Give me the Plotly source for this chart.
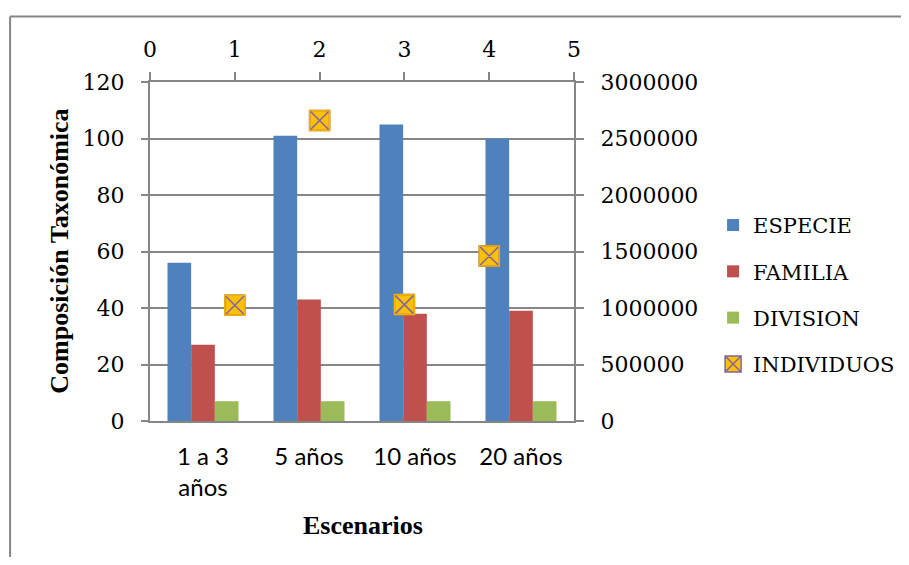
import plotly.graph_objects as go

categories = ["1 a 3<br>años", "5 años", "10 años", "20 años"]
especie = [56, 101, 105, 100]
familia = [27, 43, 38, 39]
division = [7, 7, 7, 7]
ind_x = [1, 2, 3, 4]
individuos = [1025000, 2660000, 1030000, 1460000]

y_ticks = [0, 20, 40, 60, 80, 100, 120]
y2_ticks = [0, 500000, 1000000, 1500000, 2000000, 2500000, 3000000]
x2_ticks = [0, 1, 2, 3, 4, 5]

GRAY = "#868686"
SERIF = "DejaVu Serif"
TSERIF = "Liberation Serif"
SANS = "Lato"

fig = go.Figure()
fig.add_trace(go.Bar(x=categories, y=especie, name="ESPECIE", marker_color="#4F81BD",
                     legendgroup="a", marker_line_width=0))
fig.add_trace(go.Bar(x=categories, y=familia, name="FAMILIA", marker_color="#C0504D",
                     legendgroup="b", marker_line_width=0))
fig.add_trace(go.Bar(x=categories, y=division, name="DIVISION", marker_color="#9BBB59",
                     legendgroup="c", marker_line_width=0))
fig.add_trace(go.Scatter(x=ind_x, y=individuos, name="INDIVIDUOS", mode="markers",
                         xaxis="x2", yaxis="y2", legendgroup="d",
                         marker=dict(symbol="square-x", size=20, color="#FFC000",
                                     line=dict(color="#7F64A8", width=1.5))))
fig.add_trace(go.Scatter(x=ind_x, y=individuos, mode="markers", showlegend=False,
                         xaxis="x2", yaxis="y2", hoverinfo="skip",
                         marker=dict(symbol="square-open", size=20, color="#F5B000",
                                     line=dict(color="#F5B000", width=1.5))))

fig.update_layout(
    width=893, height=549,
    margin=dict(l=142, r=327, t=74, b=136, autoexpand=False),
    plot_bgcolor="white", paper_bgcolor="white",
    barmode="group", bargap=0.33, bargroupgap=0,
    showlegend=True,
    legend=dict(x=1.328, xanchor="left", y=0.372, yanchor="middle",
                font=dict(family=SERIF, size=21, color="black"),
                traceorder="grouped", tracegroupgap=16, itemwidth=30),
    xaxis=dict(range=[-0.5, 3.5], showline=True, linecolor=GRAY, linewidth=2,
               ticks="", tickfont=dict(family=SANS, size=24, color="black"),
               ticklabelstandoff=13, showgrid=False, zeroline=False),
    xaxis2=dict(overlaying="x", side="top", anchor="y", range=[0, 5],
                tickvals=x2_ticks, ticks="outside", ticklen=8, tickcolor=GRAY, tickwidth=2,
                showline=True, linecolor=GRAY, linewidth=2, showgrid=False, zeroline=False,
                tickfont=dict(family=SERIF, size=22, color="black"), ticklabelstandoff=6),
    yaxis=dict(range=[0, 120], tickvals=y_ticks, showgrid=True, gridcolor=GRAY, gridwidth=2,
               showline=True, linecolor=GRAY, linewidth=2, ticks="outside", ticklen=7,
               tickcolor=GRAY, tickwidth=2, zeroline=False,
               tickfont=dict(family=SERIF, size=22, color="black"), ticklabelstandoff=12),
    yaxis2=dict(overlaying="y", side="right", anchor="x", range=[0, 3000000],
                tickvals=y2_ticks, tickformat="d", showgrid=False, zeroline=False,
                showline=True, linecolor=GRAY, linewidth=2, ticks="outside", ticklen=8,
                tickcolor=GRAY, tickwidth=2,
                tickfont=dict(family=SERIF, size=22, color="black"), ticklabelstandoff=12),
    annotations=[
        dict(text="<b>Escenarios</b>", xref="paper", yref="paper", x=0.502, y=-0.307,
             xanchor="center", yanchor="middle", showarrow=False,
             font=dict(family=TSERIF, size=26, color="black")),
        dict(text="<b>Composición Taxonómica</b>", xref="paper", yref="paper", x=-0.214, y=0.5,
             xanchor="center", yanchor="middle", showarrow=False, textangle=-90,
             font=dict(family=TSERIF, size=26, color="black")),
    ],
    shapes=[
        dict(type="line", xref="paper", yref="paper", x0=-0.330, x1=-0.330, y0=-0.43, y1=1.193,
             line=dict(color=GRAY, width=2)),
        dict(type="line", xref="paper", yref="paper", x0=-0.330, x1=1.80, y0=1.193, y1=1.193,
             line=dict(color=GRAY, width=2)),
    ],
)

fig.write_html("out.html")
